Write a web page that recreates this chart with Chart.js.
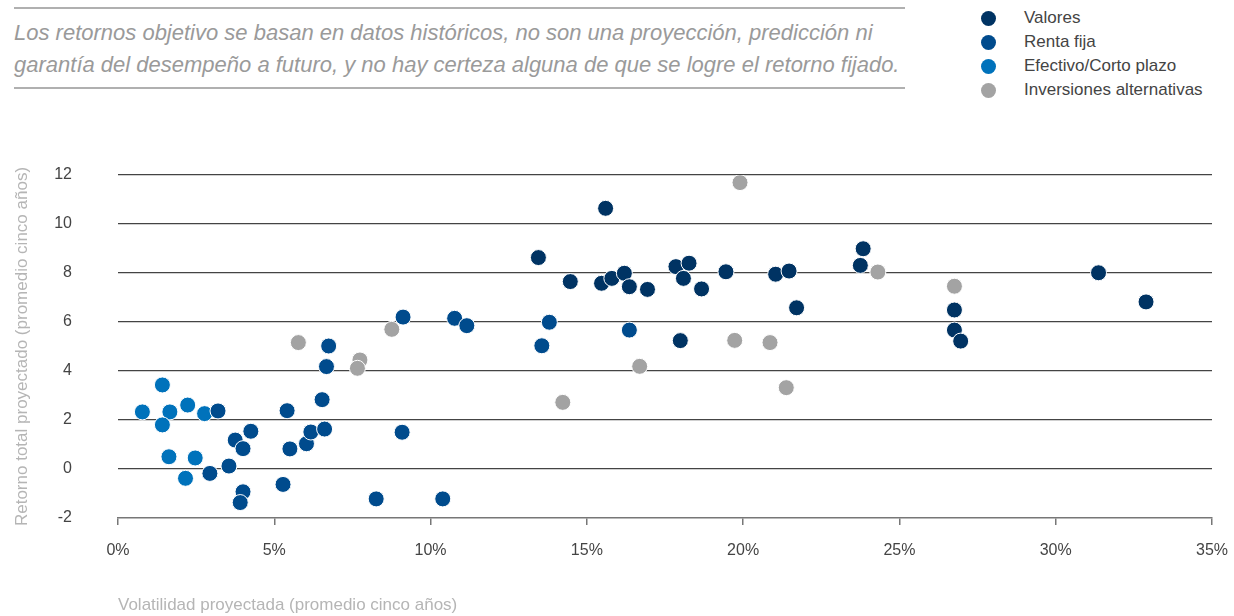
<!DOCTYPE html>
<html lang="es">
<head>
<meta charset="utf-8">
<title>Retorno vs volatilidad</title>
<script src="https://cdn.jsdelivr.net/npm/chart.js@4/dist/chart.umd.min.js"></script>
<style>
  html, body { margin: 0; padding: 0; background: #fff; }
  body { width: 1234px; height: 616px; position: relative; overflow: hidden; font-family: 'Liberation Sans', Arial, sans-serif; }
  .note {
    position: absolute; left: 14px; top: 7px; width: 891px;
    border-top: 2px solid #b0b0b0; border-bottom: 2px solid #b0b0b0;
    padding: 8px 0 6px 0;
    font-style: italic; font-size: 22px; line-height: 32px; color: #9a9a9a;
  }
  .legend { position: absolute; left: 981px; top: 6px; }
  .legend-item { height: 24px; display: flex; align-items: center; font-size: 17px; color: #444; }
  .legend-dot { width: 15px; height: 15px; border-radius: 50%; margin-right: 28px; }
  /* a little wider than the page so the last x label can hang past the edge like the original */
  .chart-wrap { position: absolute; left: 0; top: 0; width: 1244px; height: 616px; }
</style>
</head>
<body>
<div class="note">
  Los retornos objetivo se basan en datos históricos, no son una proyección, predicción ni<br>
  garantía del desempeño a futuro, y no hay certeza alguna de que se logre el retorno fijado.
</div>
<div class="legend" id="legend"></div>
<div class="chart-wrap"><canvas id="scatter"></canvas></div>

<script>
// --- data (x = volatilidad %, y = retorno) ---
const valoresX = [15.6, 13.45, 14.47, 15.47, 15.8, 16.2, 16.36, 16.94, 17.85, 18.27, 18.09, 18.67, 19.45, 21.04, 21.47, 21.71, 17.99, 23.84, 23.75, 26.76, 26.76, 26.96, 31.37, 32.89];
const valoresY = [10.64, 8.63, 7.65, 7.58, 7.78, 7.99, 7.44, 7.33, 8.26, 8.4, 7.78, 7.35, 8.05, 7.95, 8.08, 6.58, 5.24, 8.99, 8.31, 6.49, 5.67, 5.22, 8.01, 6.82];

const rentaX = [3.2, 3.75, 4.0, 4.25, 2.94, 3.55, 4.0, 3.91, 5.41, 5.5, 6.03, 6.17, 6.61, 6.53, 6.67, 5.28, 9.12, 10.77, 11.16, 6.74, 9.09, 8.26, 10.39, 13.8, 13.56, 16.36];
const rentaY = [2.37, 1.18, 0.83, 1.54, -0.18, 0.12, -0.93, -1.37, 2.38, 0.82, 1.03, 1.51, 1.63, 2.83, 4.18, -0.63, 6.2, 6.15, 5.85, 5.02, 1.5, -1.22, -1.22, 5.99, 5.03, 5.67];

const efectivoX = [0.78, 1.42, 1.66, 1.42, 2.23, 2.77, 1.63, 2.47, 2.16];
const efectivoY = [2.33, 3.43, 2.33, 1.8, 2.61, 2.26, 0.5, 0.45, -0.38];

const alternX = [5.77, 8.76, 7.74, 7.66, 14.23, 16.69, 19.73, 20.86, 21.38, 19.9, 24.31, 26.76];
const alternY = [5.16, 5.7, 4.45, 4.11, 2.72, 4.19, 5.25, 5.16, 3.32, 11.69, 8.04, 7.46];

const seriesNames  = ['Valores', 'Renta fija', 'Efectivo/Corto plazo', 'Inversiones alternativas'];
const seriesColors = ['#003363', '#004b8d', '#0072bb', '#a3a3a3'];
const xTicks = [0, 5, 10, 15, 20, 25, 30, 35];
const yTicks = [-2, 0, 2, 4, 6, 8, 10, 12];

const FONT = "'Liberation Sans', Arial, sans-serif";

function toPoints(xs, ys) {
  return xs.map((x, i) => ({ x: x, y: ys[i] }));
}

const seriesData = [
  toPoints(valoresX, valoresY),
  toPoints(rentaX, rentaY),
  toPoints(efectivoX, efectivoY),
  toPoints(alternX, alternY)
];

const datasets = seriesNames.map((name, i) => ({
  label: name,
  data: seriesData[i],
  backgroundColor: seriesColors[i],
  borderColor: '#ffffff',
  borderWidth: 1,
  pointRadius: 8,
  pointHoverRadius: 8
}));

const chart = new Chart(document.getElementById('scatter'), {
  type: 'scatter',
  data: { datasets: datasets },
  options: {
    responsive: true,
    maintainAspectRatio: false,
    animation: false,
    layout: { padding: { top: 175, right: 0, left: 0, bottom: 0 } },
    plugins: {
      legend: { display: false },
      tooltip: { enabled: false }
    },
    scales: {
      x: {
        type: 'linear',
        min: xTicks[0],
        max: xTicks[xTicks.length - 1],
        afterBuildTicks: s => { s.ticks = xTicks.map(v => ({ value: v })); },
        afterFit: s => { s.height = 98; },
        ticks: {
          color: '#444',
          font: { family: FONT, size: 16 },
          padding: 16,
          callback: v => v + '%'
        },
        grid: { drawOnChartArea: false, drawTicks: true, tickLength: 7, color: '#777', lineWidth: 1.5 },
        border: { display: true, color: '#777', width: 1.5 },
        title: {
          display: true,
          text: 'Volatilidad proyectada (promedio cinco años)',
          align: 'start',
          color: '#b5b5b5',
          font: { family: FONT, size: 17 },
          padding: { top: 0, bottom: 0 }
        }
      },
      y: {
        type: 'linear',
        min: yTicks[0],
        max: yTicks[yTicks.length - 1],
        afterBuildTicks: s => { s.ticks = yTicks.map(v => ({ value: v })); },
        afterFit: s => { s.width = 118; },
        ticks: {
          color: '#444',
          font: { family: FONT, size: 16 },
          padding: 46
        },
        grid: {
          drawTicks: false,
          lineWidth: 1.2,
          color: ctx => (ctx.tick && ctx.tick.value === yTicks[0]) ? 'rgba(0,0,0,0)' : '#444'
        },
        border: { display: false },
        title: {
          display: true,
          text: 'Retorno total proyectado (promedio cinco años)',
          color: '#b5b5b5',
          font: { family: FONT, size: 17 },
          padding: { top: 12, bottom: 0 }
        }
      }
    }
  }
});

// HTML legend built from the chart's datasets
document.getElementById('legend').innerHTML = chart.data.datasets.map(d => `
  <div class="legend-item">
    <span class="legend-dot" style="background:${d.backgroundColor}"></span>${d.label}
  </div>
`).join('');
</script>
</body>
</html>
